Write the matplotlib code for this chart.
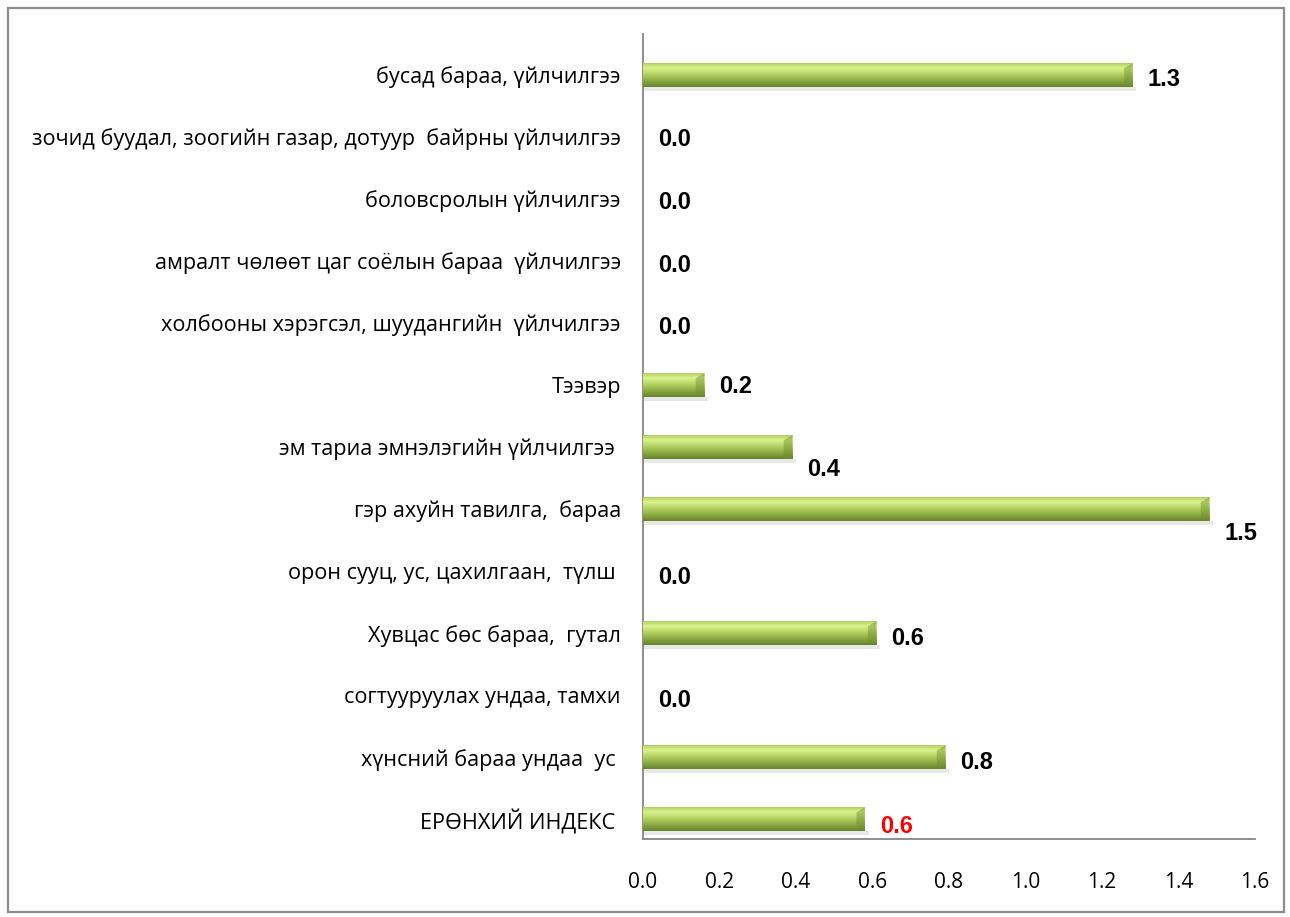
# ============================================================
# Хэрэглээний үнийн индекс — бүлгүүдийн өөрчлөлт (%)
# хэвтээ баганан график
# ============================================================

import numpy as np
import matplotlib.pyplot as plt
from matplotlib.colors import LinearSegmentedColormap
from matplotlib.patches import Rectangle, Polygon

plt.rcParams["font.family"] = ["Open Sans", "DejaVu Sans"]
plt.rcParams["axes.unicode_minus"] = False


# ============================================================
# 1. Өгөгдөл (доороос дээш)
# ============================================================

categories = [
    "ЕРӨНХИЙ ИНДЕКС ",
    "хүнсний бараа ундаа  ус ",
    "согтууруулах ундаа, тамхи",
    "Хувцас бөс бараа,  гутал",
    "орон сууц, ус, цахилгаан,  түлш ",
    "гэр ахуйн тавилга,  бараа",
    "эм тариа эмнэлэгийн үйлчилгээ ",
    "Тээвэр",
    "холбооны хэрэгсэл, шуудангийн  үйлчилгээ",
    "амралт чөлөөт цаг соёлын бараа  үйлчилгээ",
    "боловсролын үйлчилгээ",
    "зочид буудал, зоогийн газар, дотуур  байрны үйлчилгээ",
    "бусад бараа, үйлчилгээ",
]

values = [0.58, 0.79, 0.0, 0.61, 0.0, 1.48, 0.39, 0.16, 0.0, 0.0, 0.0, 0.0, 1.28]

x_ticks = [0.0, 0.2, 0.4, 0.6, 0.8, 1.0, 1.2, 1.4, 1.6]

# шошгын босоо шилжилт (пиксел, доош)
label_drop = [7, 5, 5, 5, 6, 24, 22, 1, 4, 5, 4, 3, 5]
highlight = 0          # ерөнхий индексийн шошго улаан


# ============================================================
# 2. Зураг
# ============================================================

fig = plt.figure(figsize=(12.9, 9.17), dpi=100)
ax = fig.add_axes([643 / 1290, 1 - 839 / 917, (1255 - 643) / 1290, (839 - 34) / 917])

positions = np.arange(len(categories))
bar_h = 0.38

bar_cmap = LinearSegmentedColormap.from_list(
    "bar",
    [(0.0, "#b0d060"), (0.2, "#dcf28e"), (0.45, "#b6d466"),
     (0.75, "#8aa940"), (1.0, "#66842c")]
)
gradient = np.linspace(0, 1, 64).reshape(-1, 1)

for y, v in zip(positions, values):
    if v <= 0:
        continue
    # сүүдэр
    ax.add_patch(Rectangle((0, y - bar_h / 2 - 0.07), v + 0.01, 0.07,
                           facecolor="#dadada", alpha=0.6, lw=0, zorder=2))
    # градиенттай багана
    ax.imshow(gradient, cmap=bar_cmap, aspect="auto", origin="upper",
              extent=[0, v, y - bar_h / 2, y + bar_h / 2],
              interpolation="bilinear", zorder=3)
    # баруун үзүүрийн налуу
    ax.add_patch(Polygon(
        [(v - 0.022, y + bar_h / 2 - 0.08), (v, y + bar_h / 2),
         (v, y - bar_h / 2), (v - 0.022, y - bar_h / 2 + 0.05)],
        closed=True, facecolor="#6f8d2e", alpha=0.45, lw=0, zorder=4))

# утгын шошго
for i, (y, v) in enumerate(zip(positions, values)):
    ax.annotate(
        f"{v:.1f}",
        (v, y),
        xytext=(15 * 0.72, -label_drop[i] * 0.72),
        textcoords="offset points",
        ha="left",
        va="center",
        fontsize=17,
        fontweight="bold",
        family=["Liberation Sans", "DejaVu Sans"],
        color="#ff0000" if i == highlight else "black",
    )

ax.set_xlim(0, 1.6)
ax.set_ylim(-0.32, 12.66)
ax.set_xticks(x_ticks)
ax.set_xticklabels([f"{t:.1f}" for t in x_ticks])
ax.set_yticks(positions)
ax.set_yticklabels(categories)
ax.tick_params(axis="x", length=0, pad=24, labelsize=15)
ax.tick_params(axis="y", length=0, pad=16, labelsize=15.6)

for side in ["top", "right"]:
    ax.spines[side].set_visible(False)
for side in ["left", "bottom"]:
    ax.spines[side].set_color("#868686")
    ax.spines[side].set_linewidth(1.3)

# гадна хүрээ
fig.add_artist(Rectangle((8 / 1290, 5 / 917), (1284 - 8) / 1290, (909 - 5) / 917,
                         transform=fig.transFigure, fill=False,
                         edgecolor="#8c8c8c", lw=1.6))

fig.savefig("out.png", dpi=100)
